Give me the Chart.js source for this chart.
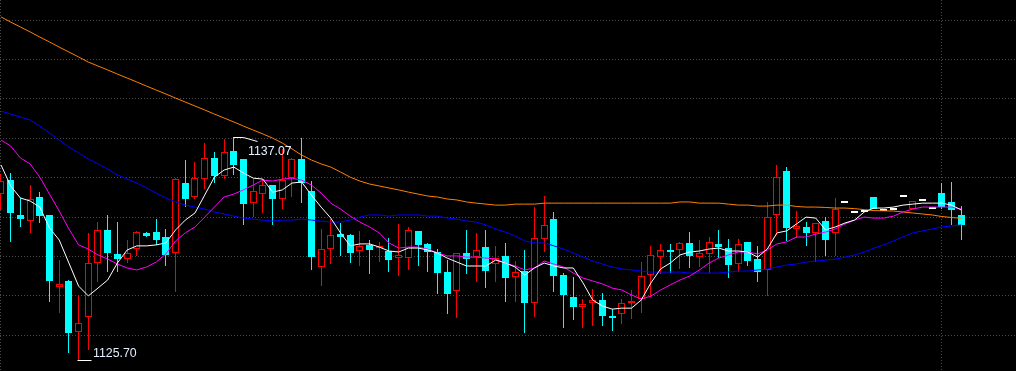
<!DOCTYPE html>
<html>
<head>
<meta charset="utf-8">
<script src="https://cdn.jsdelivr.net/npm/chart.js@4.4.1/dist/chart.umd.min.js"></script>
<style>
  html, body { margin: 0; padding: 0; background: #000; overflow: hidden; }
  canvas { display: block; }
</style>
</head>
<body>
<canvas id="c" width="1016" height="371"></canvas>
<script>
// ---- data ----
const opens = [1134.18,1134.88,1133.11,1132.80,1134.02,1133.11,1129.45,1129.76,1127.17,1127.91,
  1130.65,1132.35,1131.13,1130.86,1131.38,1132.18,1132.25,1131.98,1131.16,1134.74,
  1134.04,1134.92,1136.00,1135.10,1136.36,1135.95,1133.70,1134.16,1134.61,1133.94,
  1135.00,1135.94,1134.33,1130.45,1131.37,1132.15,1132.10,1131.29,1131.59,1131.45,
  1131.29,1130.94,1130.94,1132.30,1131.64,1131.24,1130.20,1129.23,1131.16,1130.99,
  1131.47,1130.60,1131.01,1129.98,1130.28,1128.65,1131.88,1132.90,1130.05,1128.94,
  1128.45,1128.62,1128.79,1127.99,1128.06,1128.64,1128.84,1130.05,1130.96,1131.33,
  1131.31,1131.67,1130.96,1131.11,1131.62,1131.43,1130.60,1131.72,1130.86,1130.32,
  1133.09,1135.34,1132.41,1132.48,1132.21,1132.80,1132.18,1133.70,1133.19,1133.26,
  1134.01,1133.31,1133.36,1134.01,1133.41,1133.80,1133.40,1134.21,1133.75,1133.11];
const highs = [1135.19,1135.22,1133.96,1134.63,1134.26,1133.13,1130.82,1129.81,1129.05,1132.18,
  1132.73,1133.11,1132.76,1131.84,1132.30,1132.26,1132.89,1132.39,1134.97,1135.90,
  1135.81,1136.74,1136.29,1136.96,1137.07,1135.97,1134.92,1134.95,1134.63,1136.46,
  1136.00,1137.00,1134.83,1132.40,1132.89,1132.68,1132.12,1132.30,1131.84,1131.75,
  1131.93,1132.65,1132.51,1132.32,1131.70,1131.38,1130.82,1131.18,1132.35,1132.21,
  1132.35,1131.54,1131.70,1130.77,1131.33,1133.50,1134.08,1133.24,1130.15,1129.98,
  1128.84,1129.35,1129.13,1128.32,1128.84,1129.30,1130.70,1131.54,1131.64,1131.62,
  1131.75,1132.26,1131.84,1131.98,1132.35,1131.89,1131.89,1131.74,1131.54,1133.75,
  1135.65,1135.53,1133.31,1132.75,1132.72,1133.02,1133.96,1133.70,1133.19,1133.26,
  1134.01,1133.31,1133.36,1134.01,1133.82,1133.80,1133.40,1134.74,1134.78,1133.57];
const lows = [1133.36,1131.75,1132.51,1132.18,1132.71,1128.70,1128.14,1126.08,1125.70,1126.25,
  1129.72,1130.23,1130.23,1130.65,1131.03,1131.98,1131.59,1130.52,1129.21,1133.53,
  1133.90,1134.43,1134.74,1134.93,1135.14,1132.60,1132.99,1133.19,1132.61,1133.40,
  1134.04,1133.73,1130.32,1129.52,1130.62,1131.03,1130.65,1130.53,1130.12,1130.73,
  1130.23,1130.02,1130.32,1130.52,1130.23,1129.10,1128.08,1127.89,1130.12,1129.72,
  1129.42,1129.72,1128.70,1128.70,1127.13,1127.91,1131.24,1129.21,1127.39,1127.78,
  1127.39,1127.49,1127.49,1127.23,1127.58,1127.81,1128.11,1128.96,1130.12,1130.15,
  1130.36,1130.43,1130.45,1130.15,1130.91,1129.93,1130.23,1130.52,1129.72,1129.01,
  1132.10,1131.80,1131.93,1131.54,1130.73,1131.03,1131.03,1133.70,1133.19,1133.26,
  1133.41,1133.31,1133.36,1134.01,1133.41,1133.80,1133.40,1133.40,1132.60,1131.84];
const closes = [1134.83,1133.22,1132.92,1133.91,1133.07,1129.77,1129.61,1127.10,1127.63,1130.65,
  1132.35,1131.19,1130.89,1131.19,1132.26,1132.05,1131.84,1131.09,1134.92,1133.92,
  1134.97,1135.99,1135.10,1136.32,1135.66,1133.68,1134.31,1134.61,1133.94,1134.88,
  1135.94,1134.74,1130.96,1131.37,1132.08,1132.01,1131.19,1131.52,1131.33,1131.55,
  1130.82,1131.06,1132.33,1131.59,1131.24,1130.18,1129.11,1131.16,1130.89,1131.31,
  1130.28,1130.94,1129.93,1130.22,1128.65,1131.93,1132.58,1130.03,1129.05,1128.45,
  1128.57,1128.77,1127.99,1127.89,1128.62,1128.69,1130.00,1131.06,1131.31,1131.24,
  1131.67,1131.04,1131.16,1131.72,1131.48,1130.58,1131.62,1130.78,1130.20,1132.99,
  1135.02,1132.46,1132.55,1132.21,1132.68,1131.84,1133.40,1133.70,1133.19,1133.26,
  1133.41,1133.31,1133.36,1134.01,1133.82,1133.80,1133.40,1133.53,1133.36,1132.58];

const ma5 = [1135.65,1134.58,1133.97,1133.82,1133.51,1132.45,1131.84,1130.67,1129.50,1129.00,
  1129.40,1129.81,1130.67,1131.33,1131.54,1131.54,1131.59,1131.69,1132.35,1132.85,
  1133.21,1134.12,1135.03,1135.39,1135.54,1135.24,1134.98,1134.93,1134.27,1134.38,
  1134.73,1134.78,1134.12,1133.51,1132.95,1132.20,1131.54,1131.64,1131.64,1131.48,
  1131.28,1131.23,1131.43,1131.43,1131.33,1131.18,1130.92,1130.72,1130.52,1130.52,
  1130.52,1130.82,1130.67,1130.47,1130.06,1130.42,1130.67,1130.52,1130.42,1130.42,
  1129.66,1128.79,1128.49,1128.33,1128.38,1128.38,1128.79,1129.66,1130.37,1130.67,
  1131.08,1131.23,1131.28,1131.38,1131.43,1131.28,1131.28,1131.23,1130.97,1131.38,
  1132.20,1132.30,1132.65,1133.00,1132.95,1132.35,1132.50,1132.70,1132.85,1133.26,
  1133.46,1133.46,1133.51,1133.61,1133.66,1133.71,1133.71,1133.71,1133.61,1133.36];
const ma10 = [1136.91,1136.61,1136.00,1135.70,1135.03,1134.17,1133.31,1132.40,1131.59,1131.38,
  1131.08,1130.87,1130.62,1130.42,1130.32,1130.47,1130.72,1131.13,1131.79,1132.20,
  1132.50,1133.00,1133.51,1134.02,1134.17,1134.38,1134.63,1134.88,1134.83,1134.93,
  1134.98,1134.88,1134.63,1134.22,1133.71,1133.41,1133.05,1132.75,1132.50,1132.20,
  1131.69,1131.43,1131.48,1131.48,1131.38,1131.18,1131.03,1131.03,1130.97,1130.97,
  1130.92,1130.87,1130.67,1130.52,1130.32,1130.42,1130.77,1130.62,1130.47,1130.16,
  1129.91,1129.76,1129.61,1129.40,1129.30,1129.05,1128.84,1128.99,1129.30,1129.56,
  1129.81,1130.01,1130.32,1130.67,1130.92,1131.08,1131.23,1131.23,1131.13,1131.33,
  1131.64,1131.74,1131.99,1131.99,1132.14,1132.24,1132.40,1132.65,1132.85,1133.00,
  1132.95,1132.95,1133.05,1133.26,1133.41,1133.51,1133.51,1133.51,1133.51,1133.41];
const ma30 = [1138.38,1138.23,1138.08,1137.93,1137.62,1137.27,1136.91,1136.56,1136.26,1135.95,
  1135.70,1135.44,1135.14,1134.93,1134.73,1134.48,1134.22,1133.97,1133.77,1133.61,
  1133.51,1133.41,1133.26,1133.16,1133.05,1132.95,1132.90,1132.85,1132.80,1132.85,
  1132.85,1132.90,1132.85,1132.80,1132.75,1132.75,1132.85,1133.00,1133.11,1133.11,
  1133.05,1133.11,1133.11,1133.11,1133.05,1133.05,1132.95,1132.90,1132.80,1132.75,
  1132.60,1132.40,1132.24,1132.04,1131.79,1131.69,1131.69,1131.54,1131.38,1131.18,
  1130.97,1130.77,1130.62,1130.47,1130.37,1130.32,1130.26,1130.21,1130.21,1130.21,
  1130.21,1130.16,1130.16,1130.16,1130.16,1130.21,1130.26,1130.26,1130.32,1130.37,
  1130.47,1130.57,1130.62,1130.72,1130.77,1130.82,1130.87,1130.97,1131.08,1131.23,
  1131.43,1131.59,1131.79,1132.00,1132.20,1132.30,1132.40,1132.50,1132.55,1132.60];
const ma60 = [1143.16,1142.90,1142.65,1142.40,1142.14,1141.89,1141.63,1141.38,1141.13,1140.87,
  1140.67,1140.47,1140.26,1140.06,1139.86,1139.65,1139.45,1139.25,1139.04,1138.84,
  1138.64,1138.44,1138.23,1138.03,1137.83,1137.62,1137.42,1137.22,1137.01,1136.76,
  1136.46,1136.15,1135.90,1135.70,1135.54,1135.29,1135.03,1134.83,1134.68,1134.58,
  1134.48,1134.38,1134.27,1134.17,1134.07,1134.02,1133.92,1133.87,1133.77,1133.71,
  1133.66,1133.61,1133.61,1133.66,1133.66,1133.66,1133.71,1133.71,1133.71,1133.71,
  1133.71,1133.71,1133.71,1133.71,1133.71,1133.71,1133.71,1133.71,1133.71,1133.71,
  1133.77,1133.77,1133.71,1133.71,1133.71,1133.66,1133.61,1133.61,1133.56,1133.56,
  1133.61,1133.61,1133.54,1133.51,1133.51,1133.49,1133.46,1133.46,1133.43,1133.38,
  1133.33,1133.32,1133.31,1133.26,1133.21,1133.16,1133.11,1133.03,1132.98,1132.94];

const gridPrices = [1127, 1129, 1131, 1133, 1135, 1137, 1139, 1141, 1143];
const sessionBreaks = [97];

// ---- view range ----
const xMin = -0.103, xMax = 104.64;
const yMin = 1125.19, yMax = 1144.02;

const UP = '#ff0000', DOWN = '#00ffff', FLAT = '#ffffff';
function kind(i) { return closes[i] > opens[i] ? 1 : (closes[i] < opens[i] ? -1 : 0); }
function candleColor(i) { const k = kind(i); return k > 0 ? UP : (k < 0 ? DOWN : FLAT); }

const idx = opens.map((_, i) => i);
const bodies = idx.map(i => ({ x: i, y: [opens[i], closes[i]] }));
const wicks = idx.map(i => ({ x: i, y: [lows[i], highs[i]] }));
const line = (arr) => arr.map((v, i) => ({ x: i, y: v }));

// snap the library-computed bar geometry onto whole pixels (crisp candles)
const pixelSnap = {
  id: 'pixelSnap',
  beforeDatasetsDraw(chart) {
    chart.data.datasets.forEach((ds, di) => {
      if (ds.type !== 'bar') return;
      const meta = chart.getDatasetMeta(di);
      const isBody = ds.barThickness > 1;
      meta.data.forEach(el => {
        el.x = Math.floor(el.x) + 0.5;
        el.y = Math.round(el.y);
        el.base = Math.round(el.base);
        if (isBody && Math.abs(el.y - el.base) < 2) {
          const mid = Math.round((el.y + el.base) / 2);
          el.y = mid - 1; el.base = mid + 1;
        }
      });
    });
  }
};

const extremaLabels = {
  id: 'extremaLabels',
  afterDatasetsDraw(chart) {
    const { ctx, scales: { x, y } } = chart;
    const hiVal = Math.max(...highs), loVal = Math.min(...lows);
    const hiIdx = highs.indexOf(hiVal), loIdx = lows.indexOf(loVal);
    ctx.save();
    ctx.strokeStyle = '#ffffff';
    ctx.lineWidth = 1;
    ctx.fillStyle = '#e4eeff';
    ctx.font = '13px "Liberation Sans", Arial, sans-serif';
    ctx.textBaseline = 'alphabetic';
    // high
    let px = Math.floor(x.getPixelForValue(hiIdx)) + 0.5;
    let py = Math.round(y.getPixelForValue(hiVal)) + 0.5;
    ctx.beginPath();
    ctx.moveTo(px, py); ctx.lineTo(px + 10, py); ctx.lineTo(px + 24, py + 4);
    ctx.stroke();
    ctx.save(); ctx.translate(Math.round(px + 14), py + 17.5); ctx.scale(0.95, 1);
    ctx.fillText(hiVal.toFixed(2), 0, 0); ctx.restore();
    // low
    px = Math.floor(x.getPixelForValue(loIdx)) + 0.5;
    py = Math.round(y.getPixelForValue(loVal)) - 0.5;
    ctx.beginPath();
    ctx.moveTo(px - 1, py); ctx.lineTo(px + 13, py);
    ctx.stroke();
    ctx.save(); ctx.translate(Math.round(px + 14), py - 3.5); ctx.scale(0.95, 1);
    ctx.fillText(loVal.toFixed(2), 0, 0); ctx.restore();
    ctx.restore();
  }
};

const gridColor = '#4a4a4a';

new Chart(document.getElementById('c'), {
  type: 'bar',
  data: {
    datasets: [
      { type: 'line', data: line(ma5), borderColor: '#ffffff', borderWidth: 1, pointRadius: 0, tension: 0, fill: false, order: 0 },
      { type: 'line', data: line(ma10), borderColor: '#ff00ff', borderWidth: 1, pointRadius: 0, tension: 0, fill: false, order: 0 },
      { type: 'line', data: line(ma30), borderColor: '#0000ff', borderWidth: 1, pointRadius: 0, tension: 0, fill: false, order: 0 },
      { type: 'line', data: line(ma60), borderColor: '#ff8000', borderWidth: 1, pointRadius: 0, tension: 0, fill: false, order: 0 },
      {
        type: 'bar', data: bodies, order: 1,
        barThickness: 7, grouped: false, borderSkipped: false, inflateAmount: 0, minBarLength: 2,
        borderWidth: 1,
        backgroundColor: ctx => { const k = kind(ctx.dataIndex); return k > 0 ? '#000000' : candleColor(ctx.dataIndex); },
        borderColor: ctx => candleColor(ctx.dataIndex)
      },
      {
        type: 'bar', data: wicks, order: 2,
        barThickness: 1, grouped: false, borderSkipped: false, inflateAmount: 0, borderWidth: 0,
        backgroundColor: ctx => candleColor(ctx.dataIndex)
      }
    ]
  },
  options: {
    responsive: false,
    animation: false,
    devicePixelRatio: 1,
    layout: { padding: 0 },
    events: [],
    plugins: { legend: { display: false }, tooltip: { enabled: false } },
    scales: {
      x: {
        type: 'linear', min: xMin, max: xMax, offset: false,
        ticks: { display: false },
        grid: { color: gridColor, lineWidth: 1, drawTicks: false, offset: false },
        border: { display: false, dash: [1, 2] },
        afterBuildTicks: s => { s.ticks = [xMin, ...sessionBreaks].map(v => ({ value: v })); },
        afterFit: s => { s.height = 0; }
      },
      y: {
        type: 'linear', min: yMin, max: yMax,
        ticks: { display: false },
        grid: { color: gridColor, lineWidth: 1, drawTicks: false },
        border: { display: false, dash: [1, 2] },
        afterBuildTicks: s => { s.ticks = gridPrices.map(v => ({ value: v })); },
        afterFit: s => { s.width = 0; }
      }
    }
  },
  plugins: [pixelSnap, extremaLabels]
});
</script>
</body>
</html>
